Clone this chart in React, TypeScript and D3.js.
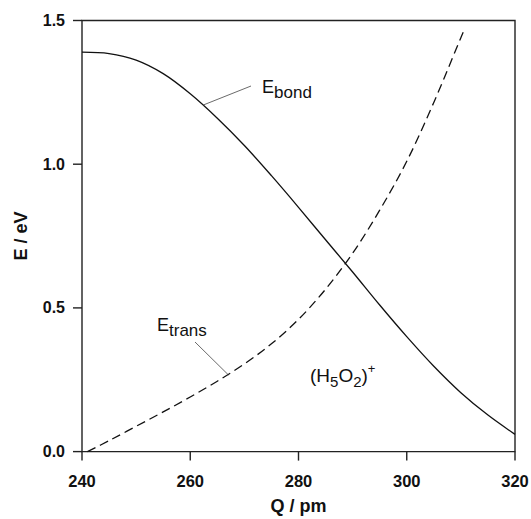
import React from "react";
import * as d3 from "d3";

const qBond = [240, 245, 250, 255, 260, 265, 270, 275, 280, 285, 290, 295, 300, 305, 310, 315, 320];
const eBond = [1.39, 1.385, 1.362, 1.315, 1.245, 1.16, 1.065, 0.96, 0.85, 0.737, 0.625, 0.51, 0.4, 0.297, 0.205, 0.127, 0.06];
const qTrans = [241, 245, 250, 255, 260, 265, 270, 275, 280, 285, 290, 295, 300, 305, 310, 310.8];
const eTrans = [0.0, 0.038, 0.088, 0.138, 0.19, 0.245, 0.305, 0.375, 0.46, 0.565, 0.69, 0.84, 1.01, 1.215, 1.44, 1.475];
const xTicks = [240, 260, 280, 300, 320];
const yTicks = [0.0, 0.5, 1.0, 1.5];

const W = 531, H = 519;
const L = 82, R = 515, T = 20.5, B = 451.6;
const font = "'Liberation Sans', Arial, Helvetica, sans-serif";

export default function App() {
  const x = d3.scaleLinear().domain([240, 320]).range([L, R]);
  const y = d3.scaleLinear().domain([0, 1.5]).range([B, T]);
  const line = d3.line<[number, number]>().x(d => x(d[0])).y(d => y(d[1])).curve(d3.curveCatmullRom.alpha(0.5));
  const bondPts = qBond.map((q, i) => [q, eBond[i]] as [number, number]);
  const transPts = qTrans.map((q, i) => [q, eTrans[i]] as [number, number]);
  return (
    <svg width={W} height={H} style={{ position: "absolute", left: 0, top: 0 }} fontFamily={font}>
      <rect x={0} y={0} width={W} height={H} fill="#fff" />
      <path d={`M${L},${B}H${R}V${T}H${L}Z`} fill="none" stroke="#222" strokeWidth={1.4} />
      {xTicks.map(t => (
        <g key={"x" + t}>
          <line x1={x(t)} x2={x(t)} y1={B} y2={B + 9} stroke="#222" strokeWidth={1.4} />
          <text x={x(t)} y={B + 35} textAnchor="middle" fontSize={16.5} fontWeight="bold" fill="#111">{t}</text>
        </g>
      ))}
      {yTicks.map(t => (
        <g key={"y" + t}>
          <line x1={L - 9} x2={L} y1={y(t)} y2={y(t)} stroke="#222" strokeWidth={1.4} />
          <text x={L - 17} y={y(t) + 5.5} textAnchor="end" fontSize={16} fontWeight="bold" fill="#111">{t.toFixed(1)}</text>
        </g>
      ))}
      <text x={(L + R) / 2} y={512} textAnchor="middle" fontSize={18} fontWeight="bold" fill="#111">Q / pm</text>
      <text transform={`translate(${27},${(T + B) / 2}) rotate(-90)`} textAnchor="middle" fontSize={18} fontWeight="bold" fill="#111">E / eV</text>
      <path d={line(bondPts) || ""} fill="none" stroke="#111" strokeWidth={1.3} />
      <path d={line(transPts) || ""} fill="none" stroke="#111" strokeWidth={1.3} strokeDasharray="9,5" />
      <line x1={203.3} y1={105} x2={251} y2={86} stroke="#444" strokeWidth={0.8} />
      <text x={262} y={93} fontSize={18} fill="#111">E<tspan dy={5} fontSize={17}>bond</tspan></text>
      <line x1={195} y1={342} x2={228.5} y2={375} stroke="#444" strokeWidth={0.8} />
      <text x={157} y={331} fontSize={18} fill="#111">E<tspan dy={5} fontSize={17}>trans</tspan></text>
      <text x={310} y={382} fontSize={19} fill="#111">
        (H<tspan dy={5} fontSize={15}>5</tspan><tspan dy={-5}>O</tspan><tspan dy={5} fontSize={15}>2</tspan><tspan dy={-5}>)</tspan><tspan dy={-9} fontSize={13}>+</tspan>
      </text>
    </svg>
  );
}
